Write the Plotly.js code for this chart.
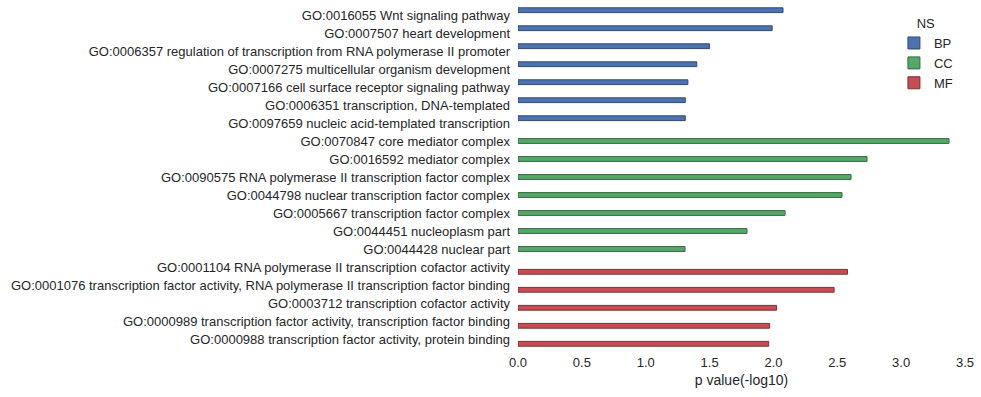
<!DOCTYPE html>
<html>
<head>
<meta charset="utf-8">
<script src="https://cdn.plot.ly/plotly-3.0.1.min.js"></script>
<style>html,body{margin:0;padding:0;background:#fff;}#chart{width:981px;height:397px;}</style>
</head>
<body>
<div id="chart"></div>
<script>
const bpTerms = [
  "GO:0016055 Wnt signaling pathway",
  "GO:0007507 heart development",
  "GO:0006357 regulation of transcription from RNA polymerase II promoter",
  "GO:0007275 multicellular organism development",
  "GO:0007166 cell surface receptor signaling pathway",
  "GO:0006351 transcription, DNA-templated",
  "GO:0097659 nucleic acid-templated transcription"
];
const bpValues = [2.075, 1.99, 1.50, 1.40, 1.33, 1.31, 1.31];

const ccTerms = [
  "GO:0070847 core mediator complex",
  "GO:0016592 mediator complex",
  "GO:0090575 RNA polymerase II transcription factor complex",
  "GO:0044798 nuclear transcription factor complex",
  "GO:0005667 transcription factor complex",
  "GO:0044451 nucleoplasm part",
  "GO:0044428 nuclear part"
];
const ccValues = [3.375, 2.733, 2.608, 2.537, 2.091, 1.793, 1.308];

const mfTerms = [
  "GO:0001104 RNA polymerase II transcription cofactor activity",
  "GO:0001076 transcription factor activity, RNA polymerase II transcription factor binding",
  "GO:0003712 transcription cofactor activity",
  "GO:0000989 transcription factor activity, transcription factor binding",
  "GO:0000988 transcription factor activity, protein binding"
];
const mfValues = [2.58, 2.475, 2.025, 1.97, 1.963];

const xTicks = [0, 0.5, 1.0, 1.5, 2.0, 2.5, 3.0, 3.5];
const xTickText = ["0.0", "0.5", "1.0", "1.5", "2.0", "2.5", "3.0", "3.5"];

const allTerms = bpTerms.concat(ccTerms, mfTerms);
const textColor = "#262626";
const fontFam = "Liberation Sans, Arial, sans-serif";

function mk(name, terms, vals, fill, edge, grp) {
  return {
    type: "bar", orientation: "h", name: name,
    y: terms, x: vals,
    offsetgroup: grp, alignmentgroup: "all",
    marker: {color: fill, line: {color: edge, width: 1}},
    hoverinfo: "x+y"
  };
}

const data = [
  mk("BP", bpTerms, bpValues, "#4C72B0", "#2f4a7a", "1"),
  mk("CC", ccTerms, ccValues, "#55A868", "#346b42", "2"),
  mk("MF", mfTerms, mfValues, "#C44E52", "#7d3033", "3")
];

const layout = {
  width: 981, height: 397,
  margin: {l: 518, r: 16, t: 6, b: 48.5, pad: 0},
  paper_bgcolor: "#fff", plot_bgcolor: "#fff",
  barmode: "group", bargap: 0.2, bargroupgap: 0,
  font: {family: fontFam, size: 13, color: textColor},
  xaxis: {
    range: [0, 3.5], tickvals: xTicks, ticktext: xTickText,
    showgrid: false, zeroline: false, showline: false, ticks: "",
    ticklabelstandoff: 5,
    tickfont: {size: 13, color: textColor},
    title: {text: "p value(-log10)", font: {size: 14, color: textColor}, standoff: 6}
  },
  yaxis: {
    type: "category", categoryorder: "array", categoryarray: allTerms,
    autorange: "reversed", showgrid: false, zeroline: false, showline: false,
    ticks: "", ticklen: 0, ticklabelstandoff: 7,
    tickfont: {size: 13, color: textColor}, automargin: false
  },
  legend: {
    x: 0.841, y: 0.985, xanchor: "left", yanchor: "top",
    bgcolor: "rgba(0,0,0,0)", font: {size: 13, color: textColor},
    title: {text: "NS", side: "top center", font: {size: 13, color: textColor}},
    tracegroupgap: 0, itemwidth: 30
  },
  showlegend: true
};

Plotly.newPlot("chart", data, layout, {displayModeBar: false, staticPlot: true});
</script>
</body>
</html>
